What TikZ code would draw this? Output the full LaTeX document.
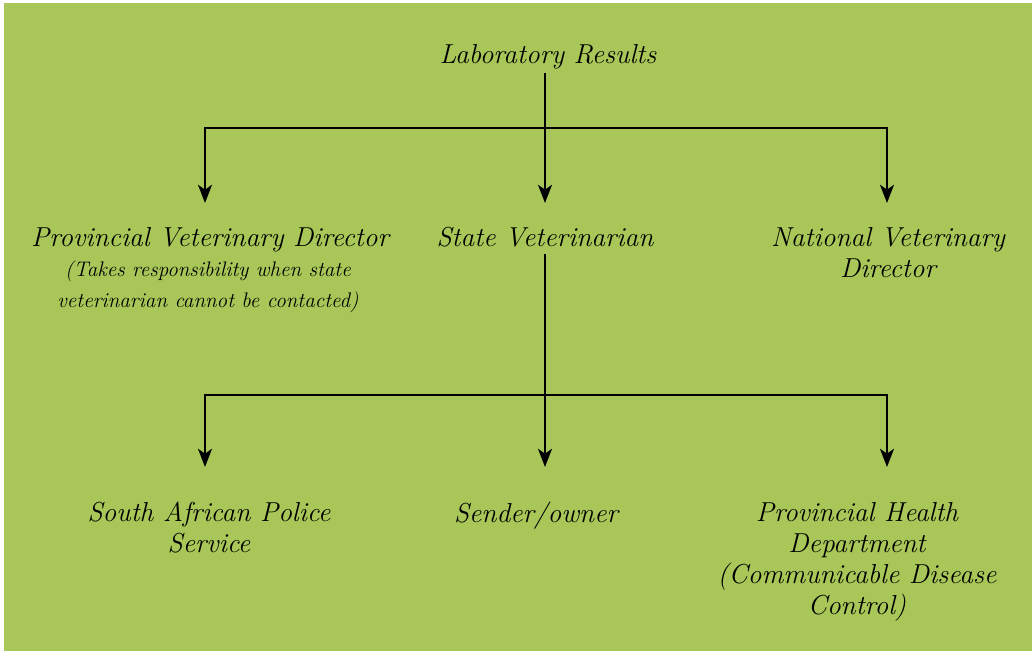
\documentclass[tikz,border=0pt]{standalone}
\usepackage{amsmath}
\usepackage{tikz}
\usetikzlibrary{arrows.meta}

\definecolor{leafgreen}{RGB}{168,199,88}

\begin{document}
\begin{tikzpicture}[x=0.025cm, y=-0.025cm,
        flow/.style={-{Stealth[length=13pt,width=10pt,inset=3.5pt]}, line width=1.4pt},
        link/.style={-, line width=1.4pt},
        hand/.style={anchor=north, align=center, inner sep=0pt, font=\fontsize{19.5}{22}\selectfont\itshape},
        note/.style={anchor=north, align=center, inner sep=0pt, font=\fontsize{15}{22}\selectfont\itshape}]
            \useasboundingbox (0,0) rectangle (1032,653);
            \fill[white] (0,0) rectangle (1032,653);
            \fill[leafgreen] (4,3) rectangle (1032,651);

            \node[hand] (lab) at (548,44) {Laboratory Results};

            \node[hand] (pvd) at (210,227) {Provincial Veterinary Director};
            \node[note] (pvdnote) at (208,260) {(Takes responsibility when state\\veterinarian cannot be contacted)};
            \node[hand] (sv) at (545,227) {State Veterinarian};
            \node[hand] (nvd) at (888,227) {National Veterinary\\Director};

            \node[hand] (sap) at (209,502) {South African Police\\Service};
            \node[hand] (so) at (536,502) {Sender/owner};
            \node[hand] (phd) at (857,502) {Provincial Health\\Department\\(Communicable Disease\\Control)};

            \coordinate (split1) at (545,128);
            \coordinate (pvdin) at (205,203);
            \coordinate (svin) at (545,203);
            \coordinate (nvdin) at (887,203);
            \draw[link] (lab.south -| split1) ++(0,4) -- (split1);
            \draw[flow] (split1) -| (pvdin);
            \draw[flow] (split1) -- (svin);
            \draw[flow] (split1) -| (nvdin);

            \coordinate (split2) at (545,395);
            \coordinate (sapin) at (205,467);
            \coordinate (soin) at (545,467);
            \coordinate (phdin) at (887,467);
            \draw[link] (sv.south) ++(0,7) -- (split2);
            \draw[flow] (split2) -| (sapin);
            \draw[flow] (split2) -- (soin);
            \draw[flow] (split2) -| (phdin);
        \end{tikzpicture}
\end{document}
